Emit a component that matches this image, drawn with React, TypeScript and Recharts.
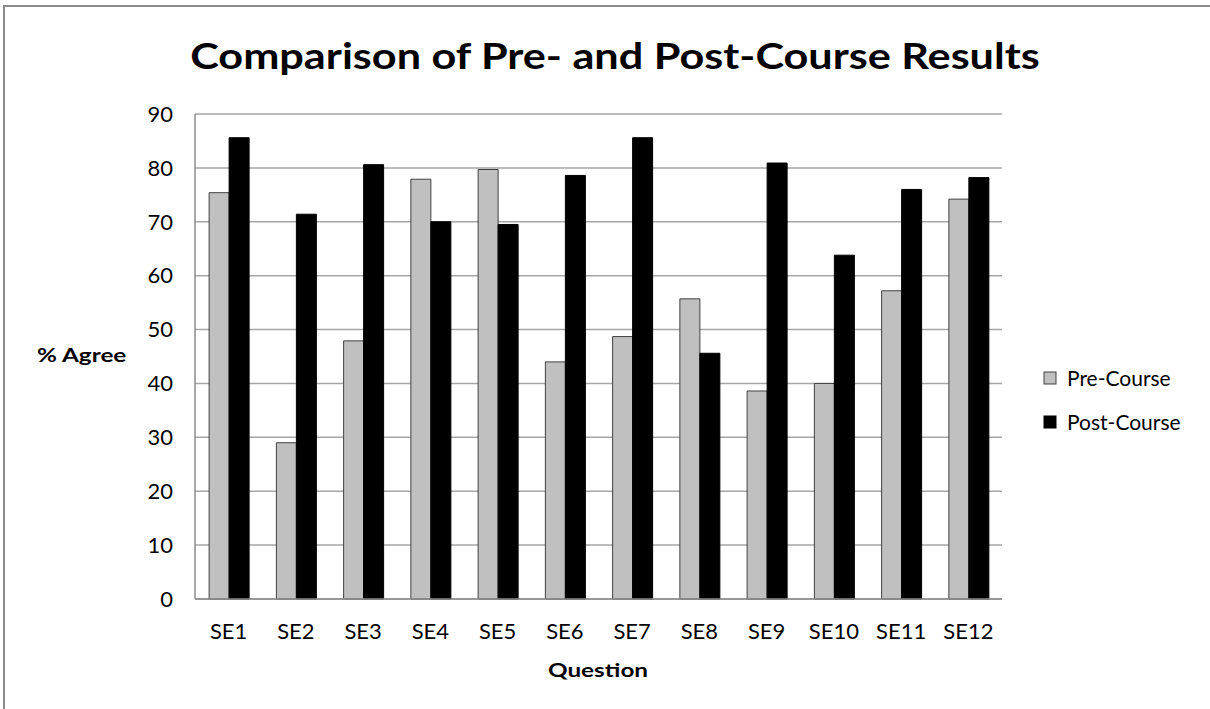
import React from "react";
import { BarChart, Bar, XAxis, YAxis, CartesianGrid } from "recharts";

const categories = ["SE1", "SE2", "SE3", "SE4", "SE5", "SE6", "SE7", "SE8", "SE9", "SE10", "SE11", "SE12"];
const preCourse = [75.4, 29.0, 47.9, 77.9, 79.7, 44.0, 48.7, 55.7, 38.6, 40.0, 57.2, 74.2];
const postCourse = [85.6, 71.4, 80.6, 70.0, 69.5, 78.6, 85.6, 45.6, 80.9, 63.8, 76.0, 78.2];
const yTicks = [0, 10, 20, 30, 40, 50, 60, 70, 80, 90];
const seriesNames = ["Pre-Course", "Post-Course"];
const seriesFill = ["#c0c0c0", "#000000"];
const seriesStroke = ["#404040", "#000000"];

const data = categories.map((c, i) => ({ name: c, pre: preCourse[i], post: postCourse[i] }));

const FONT = "Lato, 'Open Sans', sans-serif";

const XTick = (props: any) => {
  const { x, y, payload } = props;
  return (
    <text x={x} y={y} dy={40} textAnchor="middle" fontFamily={FONT} fontSize={22} fill="#000">
      {payload.value}
    </text>
  );
};

export default function App() {
  return (
    <div style={{ position: "absolute", left: 0, top: 0, width: 1210, height: 709, background: "#fff", overflow: "hidden" }}>
      <div
        style={{
          position: "absolute",
          left: 3,
          top: 5,
          width: 1220,
          height: 720,
          borderTop: "2px solid #8a8a8a",
          borderLeft: "2px solid #8a8a8a",
        }}
      />
      <div style={{ position: "absolute", left: 0, top: 0 }}>
        <BarChart
          width={1210}
          height={709}
          data={data}
          margin={{ top: 114, right: 208, bottom: 60, left: 135 }}
          barGap={0}
          barCategoryGap="21%"
        >
          <CartesianGrid vertical={false} stroke="#a6a6a6" strokeWidth={1.5} />
          <XAxis
            dataKey="name"
            tickLine={false}
            tickSize={0}
            tickMargin={0}
            axisLine={{ stroke: "#8c8c8c", strokeWidth: 1.5 }}
            tick={<XTick />}
            interval={0}
            height={50}
          />
          <YAxis
            width={60}
            domain={[0, 90]}
            ticks={yTicks}
            tickLine={false}
            tickSize={0}
            tickMargin={22}
            axisLine={{ stroke: "#8c8c8c", strokeWidth: 1.5 }}
            tick={{ fontFamily: FONT, fontSize: 22, fill: "#000" }}
            interval={0}
          />
          <Bar dataKey="pre" name={seriesNames[0]} fill={seriesFill[0]} stroke={seriesStroke[0]} strokeWidth={1} isAnimationActive={false} />
          <Bar dataKey="post" name={seriesNames[1]} fill={seriesFill[1]} stroke={seriesStroke[1]} strokeWidth={1} isAnimationActive={false} />
        </BarChart>
      </div>
      <svg width={1210} height={709} style={{ position: "absolute", left: 0, top: 0, pointerEvents: "none" }}>
        <text
          x={615}
          y={69}
          textAnchor="middle"
          fontFamily={FONT}
          fontWeight={700}
          fontSize={36}
          fill="#000"
          transform="translate(615,0) scale(1.2,1) translate(-615,0)"
        >
          Comparison of Pre- and Post-Course Results
        </text>
        <text
          x={37}
          y={362}
          fontFamily={FONT}
          fontWeight={700}
          fontSize={18}
          fill="#000"
          transform="translate(37,0) scale(1.35,1) translate(-37,0)"
        >
          % Agree
        </text>
        <text
          x={598}
          y={677}
          textAnchor="middle"
          fontFamily={FONT}
          fontWeight={700}
          fontSize={18}
          fill="#000"
          transform="translate(598,0) scale(1.35,1) translate(-598,0)"
        >
          Question
        </text>
        {seriesNames.map((n, i) => (
          <g key={n}>
            <rect x={1044} y={372 + i * 44} width={12} height={12} fill={seriesFill[i]} stroke={seriesStroke[i]} strokeWidth={1} />
            <text x={1067} y={386 + i * 44} fontFamily={FONT} fontSize={21} fill="#000">
              {n}
            </text>
          </g>
        ))}
      </svg>
    </div>
  );
}
